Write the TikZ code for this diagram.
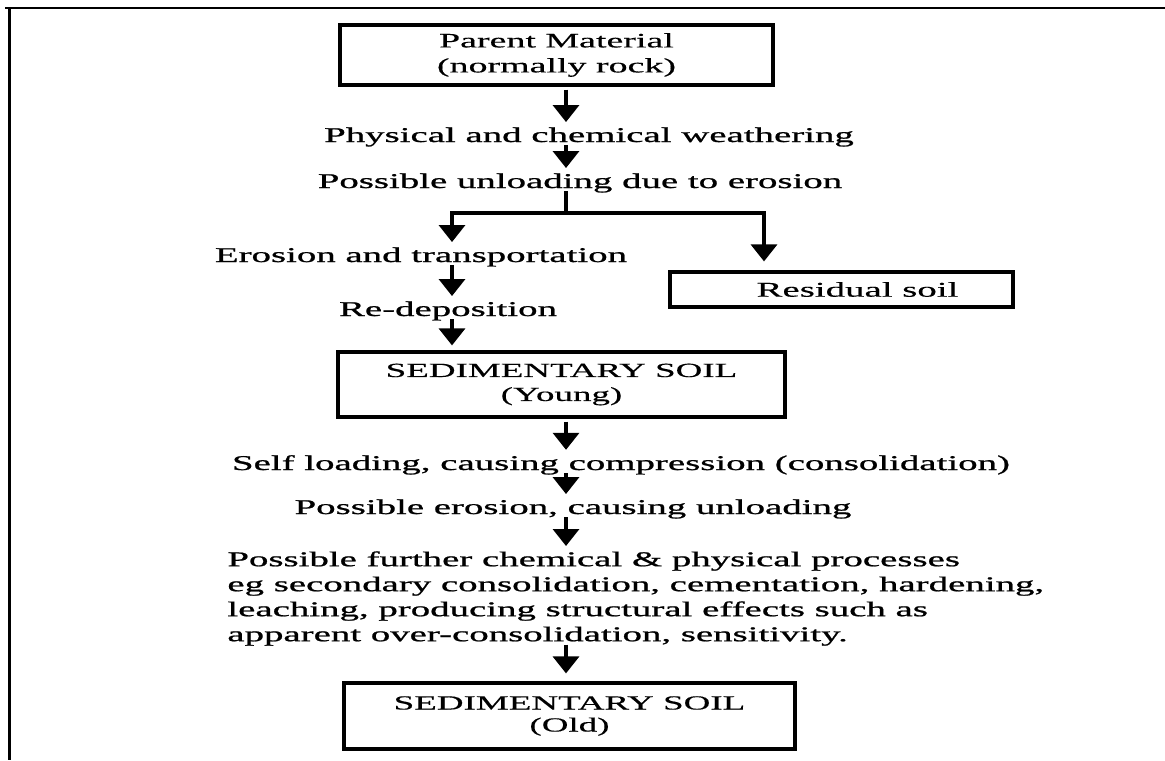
\documentclass[tikz,border=0pt]{standalone}
\usepackage{fontspec}
\setmainfont{Liberation Serif}[FakeStretch=1.85,FakeBold=1]
\newfontfamily\boxfont{Liberation Serif}[FakeStretch=1.85,FakeBold=0.4]
\usetikzlibrary{arrows.meta}

\begin{document}
\begin{tikzpicture}[x=0.5pt,y=-0.5pt,
  box/.style={draw,line width=1.6pt,inner sep=0pt,align=center},
  lbl/.style={inner sep=0pt,text depth=0pt,anchor=base,font=\fontsize{10.5}{12.5}\selectfont},
  flow/.style={line width=1.7pt,-{Triangle[width=13pt,length=8.5pt]},shorten <=1.5pt,shorten >=2.5pt}]
  \useasboundingbox (0,0) rectangle (1165,760);
  \draw[line width=1.25pt] (5,8) -- (1165,8);
  \draw[line width=1.25pt] (9.5,8) -- (9.5,760);

  \coordinate (spine) at (566,0);
  \coordinate (fork) at (566,213);
  \coordinate (lft) at (452,213);
  \coordinate (rgt) at (764,213);

  \node[box,minimum width=216.5pt,minimum height=30pt,font=\boxfont\fontsize{10.25}{12.5}\selectfont] (parent) at (556.5,55) {Parent Material\\(normally rock)};
  \node[lbl] (weather) at (589,142) {Physical and chemical weathering};
  \node[lbl] (unload) at (580,188) {Possible unloading due to erosion};
  \node[lbl] (erosion) at (421,262) {Erosion and transportation};
  \node[lbl] (redep) at (448,316) {Re-deposition};
  \node[box,minimum width=171.5pt,minimum height=17.5pt,font=\boxfont\fontsize{10.5}{12.5}\selectfont] (resid) at (841.5,289.5) {\hspace*{16pt}Residual soil};
  \node[box,minimum width=223.5pt,minimum height=32.5pt,font=\boxfont\fontsize{10}{12}\selectfont] (young) at (561.5,384.5) {SEDIMENTARY SOIL\\(Young)};
  \node[lbl] (self) at (621,470) {Self loading, causing compression (consolidation)};
  \node[lbl] (perosion) at (573,514) {Possible erosion, causing unloading};
  \node[lbl,anchor=north west,align=left] (proc) at (227,551) {Possible further chemical \& physical processes\\eg secondary consolidation, cementation, hardening,\\leaching, producing structural effects such as\\apparent over-consolidation, sensitivity.};
  \node[box,minimum width=225.5pt,minimum height=33pt,font=\boxfont\fontsize{10}{11}\selectfont] (old) at (569.5,716) {SEDIMENTARY SOIL\\(Old)};

  \draw[flow] (parent.south -| spine) -- (weather.north -| spine);
  \draw[flow] (weather.south -| spine) -- (unload.north -| spine);
  \draw[flow] (unload.south -| spine) -- (fork) -- (lft) -- (lft |- erosion.north);
  \draw[flow,shorten <=0pt,shorten >=4.5pt] (fork) -- (rgt) -- (rgt |- resid.north);
  \draw[flow] (erosion.south -| lft) -- (redep.north -| lft);
  \draw[flow] (redep.south -| lft) -- (young.north -| lft);
  \draw[flow] (young.south -| spine) -- (self.north -| spine);
  \draw[flow] (self.south -| spine) -- (perosion.north -| spine);
  \draw[flow] (perosion.south -| spine) -- (proc.north -| spine);
  \draw[flow,shorten >=4pt] (proc.south -| spine) -- (old.north -| spine);
\end{tikzpicture}
\end{document}
